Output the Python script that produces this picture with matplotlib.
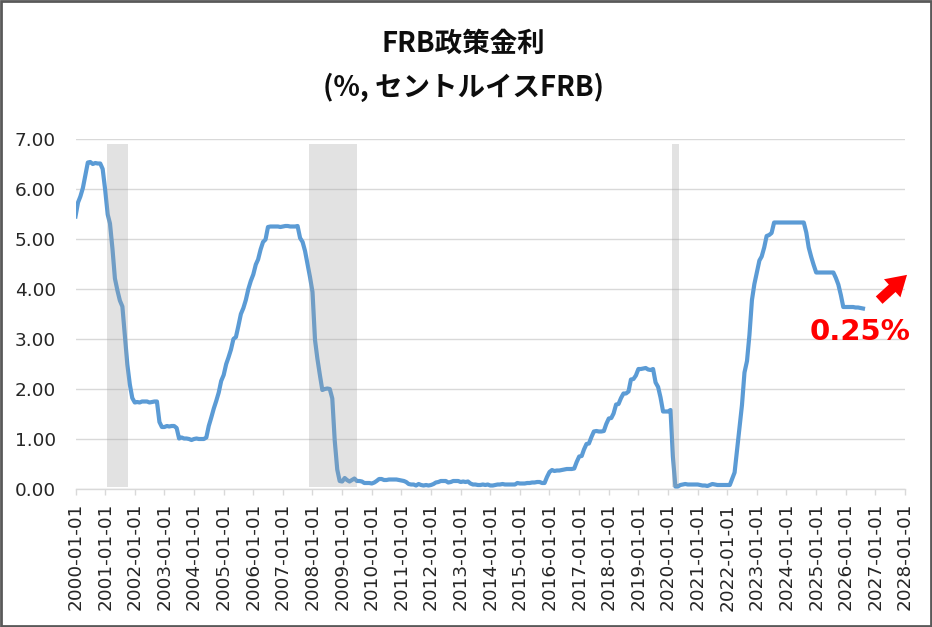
import datetime as dt
import pandas as pd
import matplotlib
matplotlib.use("Agg")
from matplotlib import pyplot as plt
from matplotlib.patches import Rectangle

# FRB政策金利 (月次, %)
rate_2000s = [
    5.45, 5.73, 5.85, 6.02, 6.27, 6.53, 6.54, 6.50, 6.52, 6.51, 6.51, 6.40,
    5.98, 5.49, 5.31, 4.80, 4.21, 3.97, 3.77, 3.65, 3.07, 2.49, 2.09, 1.82,
    1.73, 1.74, 1.73, 1.75, 1.75, 1.75, 1.73, 1.74, 1.75, 1.75, 1.34, 1.24,
    1.24, 1.26, 1.25, 1.26, 1.26, 1.22, 1.01, 1.03, 1.01, 1.01, 1.00, 0.98,
    1.00, 1.01, 1.00, 1.00, 1.00, 1.03, 1.26, 1.43, 1.61, 1.76, 1.93, 2.16,
    2.28, 2.50, 2.63, 2.79, 3.00, 3.04, 3.26, 3.50, 3.62, 3.78, 4.00, 4.16,
    4.29, 4.49, 4.59, 4.79, 4.94, 4.99, 5.24, 5.25, 5.25, 5.25, 5.25, 5.24,
    5.25, 5.26, 5.26, 5.25, 5.25, 5.25, 5.26, 5.02, 4.94, 4.76, 4.49, 4.24,
    3.94, 2.98, 2.61, 2.28, 1.98, 2.00, 2.01, 2.00, 1.81, 0.97, 0.39, 0.16,
    0.15, 0.22, 0.18, 0.15, 0.18, 0.21, 0.16, 0.16, 0.15, 0.12, 0.12, 0.12,
]
rate_2010s = [
    0.11, 0.13, 0.16, 0.20, 0.20, 0.18, 0.18, 0.19, 0.19, 0.19, 0.19, 0.18,
    0.17, 0.16, 0.14, 0.10, 0.09, 0.09, 0.07, 0.10, 0.08, 0.07, 0.08, 0.07,
    0.08, 0.10, 0.13, 0.14, 0.16, 0.16, 0.16, 0.13, 0.14, 0.16, 0.16, 0.16,
    0.14, 0.15, 0.14, 0.15, 0.11, 0.09, 0.09, 0.08, 0.08, 0.09, 0.08, 0.09,
    0.07, 0.07, 0.08, 0.09, 0.09, 0.10, 0.09, 0.09, 0.09, 0.09, 0.09, 0.12,
    0.11, 0.11, 0.11, 0.12, 0.12, 0.13, 0.13, 0.14, 0.14, 0.12, 0.12, 0.24,
    0.34, 0.38, 0.36, 0.37, 0.37, 0.38, 0.39, 0.40, 0.40, 0.40, 0.41, 0.54,
    0.65, 0.66, 0.79, 0.90, 0.91, 1.04, 1.15, 1.16, 1.15, 1.15, 1.16, 1.30,
    1.41, 1.42, 1.51, 1.69, 1.70, 1.82, 1.91, 1.91, 1.95, 2.19, 2.20, 2.27,
    2.40, 2.40, 2.41, 2.42, 2.39, 2.38, 2.40, 2.13, 2.04, 1.83, 1.55, 1.55,
]
rate_2020s = [
    1.55, 1.58, 0.65, 0.05, 0.05, 0.08, 0.09, 0.10, 0.09, 0.09, 0.09, 0.09,
    0.09, 0.08, 0.07, 0.07, 0.06, 0.08, 0.10, 0.09, 0.08, 0.08, 0.08, 0.08,
    0.08, 0.08, 0.20, 0.33, 0.77, 1.21, 1.68, 2.33, 2.56, 3.08, 3.78, 4.10,
    4.33, 4.57, 4.65, 4.83, 5.06, 5.08, 5.12, 5.33, 5.33, 5.33, 5.33, 5.33,
    5.33, 5.33, 5.33, 5.33, 5.33, 5.33, 5.33, 5.33, 5.13, 4.83, 4.64, 4.48,
    4.33, 4.33, 4.33, 4.33, 4.33, 4.33, 4.33, 4.33, 4.22, 4.09, 3.88, 3.64,
    3.64, 3.64, 3.64, 3.64, 3.63, 3.63, 3.62, 3.61,
]
rates = rate_2000s + rate_2010s + rate_2020s
dates = pd.date_range("2000-01-01", periods=len(rates), freq="MS")

# 景気後退期 (グレーの帯)
recession_start = ["2001-01-20", "2007-11-22", "2020-02-17"]
recession_end = ["2001-10-10", "2009-06-28", "2020-05-10"]
band_low, band_high = 0.05, 6.9

yticks = [0, 1, 2, 3, 4, 5, 6, 7]
years = list(range(2000, 2029))

fig = plt.figure(figsize=(9.32, 6.27), dpi=100)
ax = fig.add_axes([75.5 / 932, 138 / 627, (905 - 75.5) / 932, (489 - 139) / 627])

ax.plot(dates, rates, color="#5B9BD5", lw=3, solid_joinstyle="round", zorder=3)

for s, e in zip(recession_start, recession_end):
    ax.fill_between([pd.Timestamp(s), pd.Timestamp(e)], band_low, band_high,
                    color="#A2A2A2", alpha=0.3, lw=0, zorder=4)

ax.set_ylim(0, 7)
ax.set_xlim(dt.datetime(2000, 1, 1), dt.datetime(2028, 1, 1))
ax.set_yticks(yticks)
ax.set_yticklabels(["%.2f" % v for v in yticks])
ax.set_xticks([dt.datetime(y, 1, 1) for y in years])
ax.set_xticklabels(["%d-01-01" % y for y in years], rotation=90)
ax.grid(axis="y", color="#D9D9D9", lw=1.0)
ax.set_axisbelow(True)
for side in ["top", "right", "left"]:
    ax.spines[side].set_visible(False)
ax.spines["bottom"].set_color("#D9D9D9")
ax.spines["bottom"].set_linewidth(1.0)
ax.tick_params(axis="y", length=0, pad=14, labelsize=13.3, labelcolor="#262626")
ax.tick_params(axis="x", length=4, width=1, color="#D9D9D9", pad=6,
               labelsize=13.3, labelcolor="#262626")

# 赤い矢印と注記
ax.annotate("", xy=(dt.datetime(2028, 2, 20), 4.32), xytext=(dt.datetime(2027, 1, 22), 3.74),
            arrowprops=dict(arrowstyle="simple,head_width=1.1,tail_width=0.45,head_length=0.9",
                            color="#FF0000", mutation_scale=16, lw=0),
            annotation_clip=False, zorder=5)
ax.text(dt.datetime(2026, 6, 25), 3.14, "0.25%", color="#FF0000", fontsize=21,
        fontweight="bold", ha="center", va="center", family="DejaVu Sans")

title_font = ["Noto Sans CJK JP", "DejaVu Sans"]
fig.text(0.497, 0.931, "FRB政策金利", ha="center", va="center", fontsize=19.8,
         fontweight="bold", family=title_font, color="#0D0D0D")
fig.text(0.497, 0.860, "(%, セントルイスFRB)", ha="center", va="center", fontsize=19.8,
         fontweight="bold", family=title_font, color="#0D0D0D")

fig.patches.append(Rectangle((0.001, 0.0015), 0.998, 0.997, transform=fig.transFigure,
                             fill=False, edgecolor="#595959", lw=2))

fig.savefig("out.png", dpi=100)
